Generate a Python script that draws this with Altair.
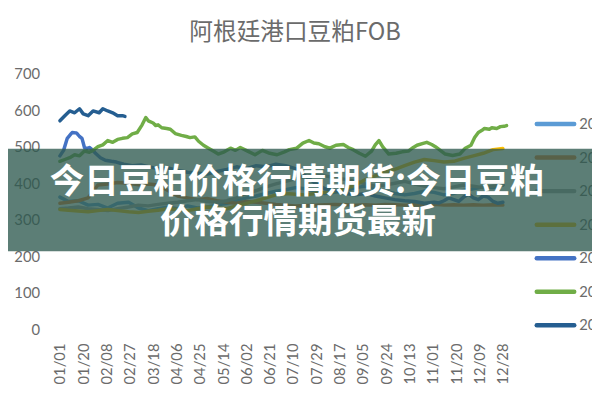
import altair as alt
import pandas as pd

TITLE = "阿根廷港口豆粕FOB"
BANNER = ["今日豆粕价格行情期货:今日豆粕", "价格行情期货最新"]
SERIES = ["2008", "2009", "2010", "2011", "2012", "2013", "2014"]
COLORS = ["#5B9BD5", "#ED7D31", "#A5A5A5", "#FFC000", "#4472C4", "#70AD47", "#255E91"]
TICK_LABELS = ["01/01", "01/20", "02/08", "02/27", "03/18", "04/06", "04/25",
               "05/14", "06/02", "06/21", "07/10", "07/29", "08/17", "09/05",
               "09/24", "10/13", "11/01", "11/20", "12/09", "12/28"]
Y_TICKS = [0, 100, 200, 300, 400, 500, 600, 700]

# day of year (0 = Jan 1) for the sparser series
GRID_DAYS = [0, 7, 15, 23, 31, 39, 47, 56, 64, 72, 80, 88, 96, 104, 112, 120, 128,
             136, 144, 152, 160, 168, 176, 184, 192, 200, 208, 216, 224, 233, 241,
             249, 257, 265, 273, 281, 289, 297, 305, 313, 321, 329, 337, 345, 353, 361]

V2008 = [362, 350, 352, 340, 342, 332, 345, 348, 332, 325, 330, 334, 330, 338, 332,
         335, 340, 345, 352, 360, 365, 372, 378, 382, 388, 385, 378, 372, 375, 380,
         388, 392, 386, 378, 372, 368, 372, 378, 375, 368, 372, 380, 385, 390, 388, 395]
V2009 = [345, 348, 352, 360, 395, 398, 402, 400, 396, 398, 395, 380, 365, 360, 355,
         358, 352, 348, 345, 350, 348, 345, 342, 340, 338, 339, 340, 341, 342, 341,
         340, 341, 340, 342, 341, 340, 341, 340, 342, 340, 341, 340, 341, 340, 341, 340]
V2010 = [330, 332, 335, 330, 328, 325, 330, 335, 340, 338, 342, 345, 348, 352, 355,
         350, 348, 352, 360, 372, 380, 390, 398, 405, 412, 418, 422, 420, 415, 410,
         405, 398, 392, 395, 400, 405, 398, 392, 388, 385, 390, 395, 392, 388, 392, 395]
V2011 = [328, 326, 324, 322, 325, 328, 325, 322, 320, 323, 326, 330, 328, 325, 330,
         335, 332, 330, 338, 345, 352, 360, 368, 372, 370, 368, 372, 375, 378, 385,
         395, 410, 420, 430, 438, 448, 458, 465, 462, 458, 460, 468, 475, 482, 492, 495]

D2012 = [0, 3, 6, 9, 10, 13, 14, 16, 18, 20, 22, 24, 27, 29, 33, 37, 42, 46, 52,
         59, 66, 72, 80, 88, 96, 104, 112, 120, 128, 136, 144, 152, 160, 168, 176,
         184, 192, 200, 208, 216, 224, 233, 241, 249, 257, 265, 273, 281, 289, 297,
         305, 309, 313, 317, 321, 325, 329, 333, 337, 341, 345, 349, 353, 357, 361]
V2012 = [475, 490, 523, 535, 539, 538, 536, 528, 523, 498, 495, 498, 490, 482, 470,
         463, 460, 458, 452,
         448, 450, 445, 440, 442, 435, 430, 428, 425, 432, 438, 445, 440, 448, 445,
         452, 448, 440, 420, 400, 385, 380, 372, 368, 372, 365, 360, 355, 352, 350,
         345, 348, 346, 352, 360, 355, 350, 362, 370, 360, 355, 365, 362, 350, 345, 348]

D2013 = [0, 4, 8, 12, 16, 20, 24, 27, 31, 35, 39, 43, 47, 51, 55, 59, 63, 67, 70, 72,
         76, 78, 80, 83, 87, 90, 94, 99, 103, 106, 110, 113, 117, 121, 125, 129, 134,
         139, 143, 147, 153, 159, 165, 171, 177, 183, 187, 193, 198, 203, 207, 211,
         216, 220, 225, 231, 235, 239, 244, 249, 254, 257, 260, 263, 268, 274, 279,
         284, 288, 291, 296, 299, 303, 306, 310, 314, 320, 326, 330, 335, 338, 341,
         344, 346, 350, 352, 356, 359, 362, 364]
V2013 = [460, 465, 470, 478, 475, 488, 485, 490, 500, 505, 517, 512, 520, 523, 525,
         535, 539, 560, 580, 571, 565, 558, 560, 552, 550, 548, 536, 531, 528, 525,
         527, 515, 504, 496, 488, 480, 486, 496, 490, 498, 488, 478, 490, 482, 478,
         486, 492, 496, 510, 517, 510, 508, 500, 496, 504, 506, 498, 492, 482, 474,
         488, 505, 517, 500, 480, 482, 486, 488, 498, 504, 509, 512, 506, 500, 490,
         480, 476, 480, 495, 504, 525, 539, 545, 550, 548, 552, 550, 555, 556, 558]

D2014 = [0, 4, 8, 12, 16, 19, 23, 27, 32, 35, 39, 43, 47, 51, 53]
V2014 = [571, 585, 598, 593, 604, 590, 585, 598, 593, 604, 598, 593, 585, 585, 583]

SERIES_DATA = [
    (SERIES[0], GRID_DAYS, V2008),
    (SERIES[1], GRID_DAYS, V2009),
    (SERIES[2], GRID_DAYS, V2010),
    (SERIES[3], GRID_DAYS, V2011),
    (SERIES[4], D2012, V2012),
    (SERIES[5], D2013, V2013),
    (SERIES[6], D2014, V2014),
]

base_day = pd.Timestamp("2017-01-01")
rows = []
for name, days, vals in SERIES_DATA:
    for d, v in zip(days, vals):
        rows.append({"series": name,
                     "date": (base_day + pd.Timedelta(days=d)).strftime("%Y-%m-%d"),
                     "value": v})
df = pd.DataFrame(rows)

tick_values = [alt.DateTime(year=2017, month=int(t[:2]), date=int(t[3:]), utc=True)
               for t in TICK_LABELS]

color_scale = alt.Scale(domain=SERIES, range=COLORS)
FONT = "Lato"
CJK = "Noto Sans CJK SC"
GRAY = "#6b6b6b"

lines = alt.Chart(df).mark_line(strokeWidth=3.5, strokeCap="round", strokeJoin="round").encode(
    x=alt.X("date:T",
            scale=alt.Scale(type="utc",
                            domain=[alt.DateTime(year=2016, month=12, date=31, hours=12, utc=True),
                                    alt.DateTime(year=2017, month=12, date=31, hours=12, utc=True)]),
            axis=alt.Axis(values=tick_values, labelExpr="utcFormat(datum.value, '%m/%d')",
                          labelAngle=270,
                          title=None, grid=False, domain=False, ticks=False, labelPadding=14,
                          labelFont=FONT, labelFontSize=15, labelColor=GRAY,
                          labelOverlap=False, labelFlush=False)),
    y=alt.Y("value:Q",
            scale=alt.Scale(domain=[0, 700], nice=False),
            axis=alt.Axis(values=Y_TICKS, title=None, grid=False, domain=False, ticks=False,
                          labelPadding=20, labelFont=FONT, labelFontSize=15, labelColor=GRAY)),
    color=alt.Color("series:N", scale=color_scale, legend=None),
    order=alt.Order("date:T"),
)

legend_df = pd.DataFrame({"series": SERIES})
legend_y = alt.Y("series:N", scale=alt.Scale(type="point", domain=SERIES, range=[51, 255], padding=0),
                 axis=None)
legend_lines = alt.Chart(legend_df).mark_rule(strokeWidth=4.5, strokeCap="round").encode(
    x=alt.value(484), x2=alt.value(522), y=legend_y,
    color=alt.Color("series:N", scale=color_scale, legend=None),
)
legend_text = alt.Chart(legend_df).mark_text(align="left", baseline="middle", font=FONT,
                                             fontSize=15, color=GRAY).encode(
    x=alt.value(527), y=legend_y, text="series:N",
)

one = pd.DataFrame({"k": [0]})
overlay = alt.Chart(one).mark_rect(color="#2e5a4f", opacity=0.78).encode(
    x=alt.value(-52), x2=alt.value(540), y=alt.value(76), y2=alt.value(180),
)
banner1 = alt.Chart(one).mark_text(font=CJK, fontWeight="bold", fontSize=35, color="white",
                                   align="center", baseline="middle").encode(
    x=alt.value(241), y=alt.value(110), text=alt.value(BANNER[0]))
banner2 = alt.Chart(one).mark_text(font=CJK, fontWeight="bold", fontSize=35, color="white",
                                   align="center", baseline="middle").encode(
    x=alt.value(242), y=alt.value(150), text=alt.value(BANNER[1]))

chart = alt.layer(lines, legend_lines, legend_text, overlay, banner1, banner2).resolve_scale(
    y="independent"
).properties(
    width=454, height=259,
    title=alt.Title(TITLE, font=CJK, fontSize=24, fontWeight="normal", color="#6b6b6b",
                    anchor="middle", frame="group", offset=22, dx=12),
    autosize=alt.AutoSizeParams(type="none"),
    padding={"left": 52, "top": 64, "right": 86, "bottom": 60},
).configure_view(stroke=None)

chart.save("out.html", embed_options={"renderer": "svg", "actions": False})
